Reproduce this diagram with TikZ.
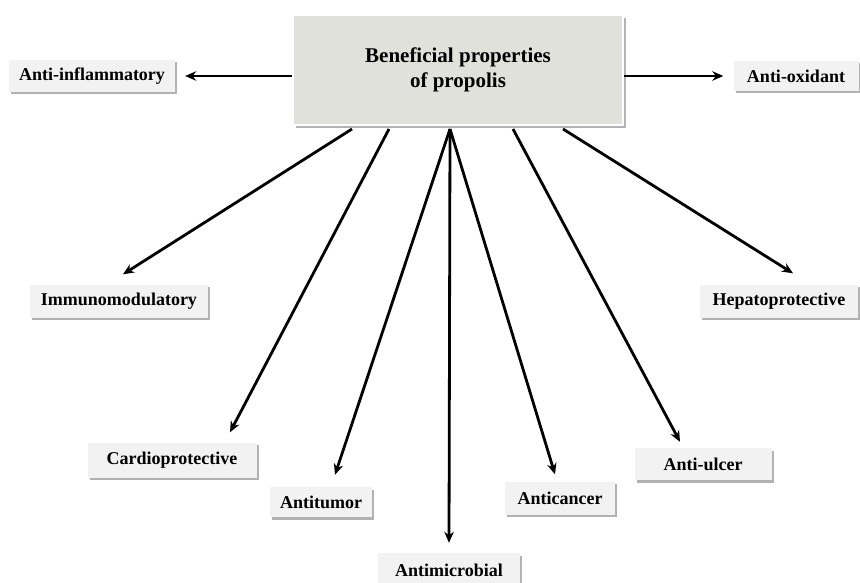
\documentclass[tikz,border=0pt]{standalone}
\usepackage{fontspec}
\setmainfont{Liberation Serif}
\usepackage{tikz}
\usetikzlibrary{arrows.meta,shadows}
\definecolor{labelgray}{RGB}{242,242,242}
\definecolor{titlegray}{RGB}{225,225,220}
\tikzset{
  label box/.style={fill=labelgray,inner sep=0pt,font=\fontsize{18}{20}\selectfont\bfseries,
    drop shadow={shadow xshift=2pt,shadow yshift=-2.5pt,fill=black!50,opacity=.6}},
  title box/.style={fill=titlegray,draw=white,line width=2pt,align=center,inner sep=0pt,
    font=\fontsize{21}{25}\selectfont\bfseries,
    drop shadow={shadow xshift=2.5pt,shadow yshift=-3pt,fill=black!55,opacity=.55}},
  arr/.style={line width=2.8pt,-{Stealth[length=11pt,width=9.5pt]}}
}

\begin{document}
\begin{tikzpicture}[x=1pt,y=-1pt]
        \useasboundingbox[fill=white] (0,0) rectangle (860,583);
        % the main box
        \node[title box,minimum width=330pt,minimum height=110pt] (main) at (458,70)
          {Beneficial properties\\of propolis};
        % the properties
        \node[label box,minimum width=166pt,minimum height=32pt] (inflam) at (92,76) {Anti-inflammatory};
        \node[label box,minimum width=125pt,minimum height=30pt] (oxid) at (796,76) {Anti-oxidant};
        \node[label box,minimum width=178pt,minimum height=33pt] (immuno) at (119,301) {Immunomodulatory};
        \node[label box,minimum width=169pt,minimum height=35pt] (cardio) at (172,460) {Cardioprotective};
        \node[label box,minimum width=102pt,minimum height=30pt] (tumor) at (321,502) {Antitumor};
        \node[label box,minimum width=142pt,minimum height=34pt] (microb) at (449,570) {Antimicrobial};
        \node[label box,minimum width=110pt,minimum height=33pt] (cancer) at (560,498) {Anticancer};
        \node[label box,minimum width=137pt,minimum height=32pt] (ulcer) at (703,464) {Anti-ulcer};
        \node[label box,minimum width=158pt,minimum height=33pt] (hepato) at (779,301) {Hepatoprotective};
        % arrows to the sides
        \draw[arr,shorten >=10pt] ([yshift=-6pt]main.west) -- (inflam.east);
        \draw[arr,shorten >=10pt] ([yshift=-6pt]main.east) -- (oxid.west);
        % arrows going down
        \draw[arr] ([xshift=-106pt,yshift=-3pt]main.south) -- ([xshift=4pt,yshift=10pt]immuno.north);
        \draw[arr] ([xshift=-69pt,yshift=-3pt]main.south) -- ([xshift=58pt,yshift=10pt]cardio.north);
        \draw[arr] ([xshift=-8pt,yshift=-3pt]main.south) -- ([xshift=14pt,yshift=12pt]tumor.north);
        \draw[arr] ([xshift=-8pt,yshift=-3pt]main.south) -- ([yshift=10pt]microb.north);
        \draw[arr] ([xshift=-8pt,yshift=-3pt]main.south) -- ([xshift=-5pt,yshift=7pt]cancer.north);
        \draw[arr] ([xshift=55pt,yshift=-3pt]main.south) -- ([xshift=-23pt,yshift=6pt]ulcer.north);
        \draw[arr] ([xshift=105pt,yshift=-3pt]main.south) -- ([xshift=14pt,yshift=11pt]hepato.north);
\end{tikzpicture}
\end{document}
